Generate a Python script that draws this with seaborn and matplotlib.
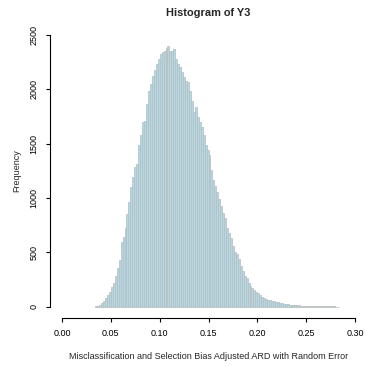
import numpy as np
import pandas as pd
import matplotlib
matplotlib.use("Agg")
import matplotlib.pyplot as plt
import seaborn as sns

# ---- data ----
bin_start = 0.034
bin_width = 0.002
counts = [
    3, 8, 15, 31, 55, 77, 107, 138, 183, 220,
    281, 352, 428, 596, 642, 719, 856, 963, 1100, 1192,
    1284, 1315, 1483, 1575, 1697, 1706, 1865, 1987, 2049, 2125,
    2171, 2232, 2278, 2324, 2339, 2354, 2379, 2400, 2348, 2354,
    2370, 2278, 2232, 2201, 2155, 2109, 2079, 2063, 1987, 1895,
    1788, 1840, 1740, 1694, 1648, 1575, 1490, 1440, 1391, 1254,
    1162, 1107, 1055, 988, 923, 862, 811, 719, 679, 627,
    557, 504, 483, 435, 373, 330, 281, 260, 214, 190,
    174, 153, 135, 122, 104, 92, 80, 68, 61, 58,
    52, 48, 44, 40, 34, 30, 27, 25, 22, 20,
    17, 15, 14, 13, 12, 11, 10, 9, 8, 7,
    6, 6, 5, 5, 4, 4, 3, 3, 3, 2,
    2, 2, 2, 1, 1,
]
x_ticks = [0.00, 0.05, 0.10, 0.15, 0.20, 0.25, 0.30]
x_tick_labels = ["0.00", "0.05", "0.10", "0.15", "0.20", "0.25", "0.30"]
y_ticks = [0, 500, 1000, 1500, 2000, 2500]
y_tick_labels = ["0", "500", "1000", "1500", "2000", "2500"]
title = "Histogram of Y3"
xlabel = "Misclassification and Selection Bias Adjusted ARD with Random Error"
ylabel = "Frequency"

n = len(counts)
edges = [bin_start + bin_width * i for i in range(n + 1)]
centers = [(edges[i] + edges[i + 1]) / 2 for i in range(n)]
df = pd.DataFrame({"value": centers, "count": [float(c) for c in counts]})

sns.set_style("white")
plt.rcParams["font.family"] = ["Liberation Sans", "DejaVu Sans"]

W, H = 365, 366
fig = plt.figure(figsize=(W / 100, H / 100), dpi=100)
# axes box in pixel coords
L, R, T, B = 50, 363, 30, 318
ax = fig.add_axes([L / W, 1 - B / H, (R - L) / W, (B - T) / H])

sns.histplot(data=df, x="value", weights="count", bins=edges, ax=ax,
             color="#ADD8E6", edgecolor="#BEBEBE", linewidth=0.55,
             alpha=1.0, legend=False)

# data->pixel mapping: x 0 -> 62px, 0.3 -> 355px ; y 0 -> 306.7px, 2500 -> 34.7px
xs = (355 - 62) / 0.3
ax.set_xlim(-(62 - L) / xs, 0.3 + (R - 355) / xs)
ys = (306.7 - 34.7) / 2500
ax.set_ylim(-(B - 306.7) / ys, (306.7 - T) / ys)

for s in ["top", "right"]:
    ax.spines[s].set_visible(False)
for s in ["left", "bottom"]:
    ax.spines[s].set_color("black")
    ax.spines[s].set_linewidth(0.8)
ax.spines["left"].set_bounds(0, 2500)
ax.spines["bottom"].set_bounds(0, 0.3)

ax.set_xticks(x_ticks)
ax.set_xticklabels(x_tick_labels)
ax.set_yticks(y_ticks)
ax.set_yticklabels(y_tick_labels, rotation=90, va="center")
ax.tick_params(axis="both", direction="out", length=3.0, width=0.8,
               color="black", labelsize=6.5, pad=5.2, labelcolor="black")
ax.tick_params(axis="x", bottom=True)
ax.tick_params(axis="y", left=True)
ax.set_xlabel("")
ax.set_ylabel("")
ax.grid(False)

fig.text(208 / W, 1 - 12.7 / H, title, ha="center", va="center",
         fontsize=7.9, fontweight="bold")
fig.text(209 / W, 1 - 356.7 / H, xlabel, ha="center", va="center", fontsize=6.5)
fig.text(17 / W, 1 - 170.7 / H, ylabel, ha="center", va="center",
         fontsize=6.5, rotation=90)

fig.savefig("out.png", dpi=100)
